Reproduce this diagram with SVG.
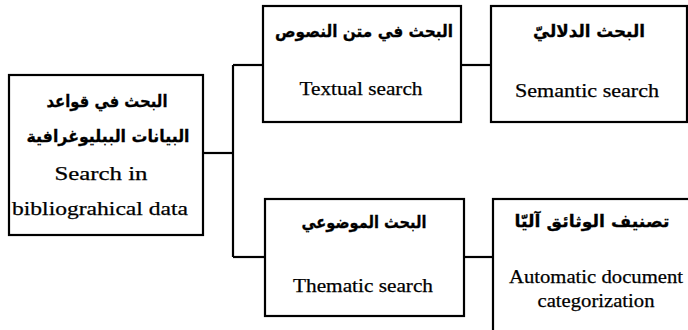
<svg xmlns="http://www.w3.org/2000/svg" width="688" height="330" viewBox="0 0 688 330">
  <style>
    .box { fill: #ffffff; stroke: #000000; stroke-width: 2.2; }
    .wire { fill: none; stroke: #000000; stroke-width: 2.2; }
    .ar { font-family: "DejaVu Sans", "Noto Sans", sans-serif; font-weight: bold; font-size: 16.5px; fill: #000000; stroke: #000000; stroke-width: 0.3; text-anchor: middle; direction: rtl; }
    .en { font-family: "Liberation Serif", "Times New Roman", serif; font-size: 19px; fill: #000000; stroke: #000000; stroke-width: 0.25; text-anchor: middle; }
  </style>
  <rect x="0" y="0" width="688" height="330" fill="#ffffff"/>

  <!-- connectors -->
  <g id="connectors">
    <path class="wire" d="M203 153 H233"/>
    <path class="wire" d="M233 65 V257"/>
    <path class="wire" d="M233 65 H263"/>
    <path class="wire" d="M233 257 H265"/>
    <path class="wire" d="M461 65 H491"/>
    <path class="wire" d="M464 257 H493"/>
  </g>

  <!-- root: bibliographic database search -->
  <g id="bibliographic">
    <rect class="box" x="9" y="75" width="194" height="160"/>
    <text class="ar" x="107" y="107" textLength="121" lengthAdjust="spacingAndGlyphs">البحث في قواعد</text>
    <text class="ar" x="108" y="142" textLength="163" lengthAdjust="spacingAndGlyphs">البيانات الببليوغرافية</text>
    <text class="en" x="101" y="180" textLength="93" lengthAdjust="spacingAndGlyphs">Search in</text>
    <text class="en" x="100" y="215" textLength="176" lengthAdjust="spacingAndGlyphs">bibliograhical data</text>
  </g>

  <!-- textual search -->
  <g id="textual">
    <rect class="box" x="263" y="6" width="198" height="116"/>
    <text class="ar" x="364" y="37" textLength="178" lengthAdjust="spacingAndGlyphs">البحث في متن النصوص</text>
    <text class="en" x="361" y="95" textLength="123" lengthAdjust="spacingAndGlyphs">Textual search</text>
  </g>

  <!-- semantic search -->
  <g id="semantic">
    <rect class="box" x="491" y="6" width="196" height="116"/>
    <text class="ar" x="589" y="37" textLength="112" lengthAdjust="spacingAndGlyphs">البحث الدلاليّ</text>
    <text class="en" x="587" y="97" textLength="144" lengthAdjust="spacingAndGlyphs">Semantic search</text>
  </g>

  <!-- thematic search -->
  <g id="thematic">
    <rect class="box" x="265" y="199" width="199" height="117"/>
    <text class="ar" x="364" y="228" textLength="125" lengthAdjust="spacingAndGlyphs">البحث الموضوعي</text>
    <text class="en" x="363" y="292" textLength="140" lengthAdjust="spacingAndGlyphs">Thematic search</text>
  </g>

  <!-- automatic document categorization -->
  <g id="categorization">
    <rect class="box" x="493" y="199" width="210" height="140"/>
    <text class="ar" x="592" y="227" textLength="155" lengthAdjust="spacingAndGlyphs">تصنيف الوثائق آليّا</text>
    <text class="en" x="596" y="283" textLength="174" lengthAdjust="spacingAndGlyphs">Automatic document</text>
    <text class="en" x="596" y="307" textLength="117" lengthAdjust="spacingAndGlyphs">categorization</text>
  </g>
</svg>
